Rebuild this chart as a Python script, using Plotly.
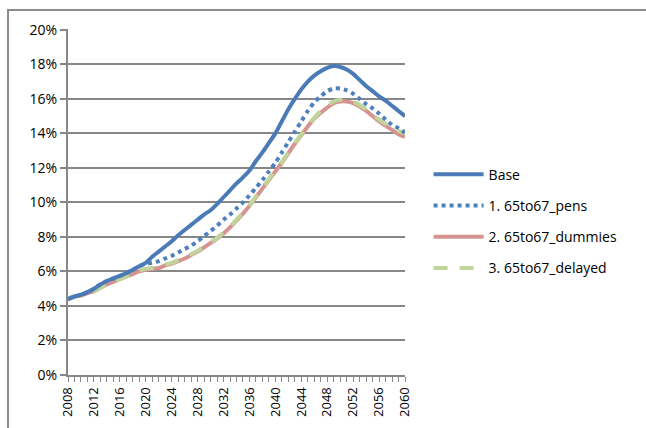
import plotly.graph_objects as go

years = list(range(2008, 2061))

base = [4.4, 4.55, 4.65, 4.8, 5.0, 5.25, 5.45, 5.6, 5.75, 5.9,
        6.1, 6.3, 6.5, 6.85, 7.15, 7.45, 7.75, 8.1, 8.4, 8.7,
        9.0, 9.3, 9.55, 9.9, 10.3, 10.7, 11.1, 11.45, 11.85, 12.4,
        12.9, 13.45, 14.0, 14.7, 15.4, 16.0, 16.55, 17.0, 17.35, 17.6,
        17.8, 17.9, 17.85, 17.7, 17.45, 17.1, 16.75, 16.45, 16.15, 15.9,
        15.6, 15.3, 15.0]

pens = [4.4, 4.55, 4.65, 4.8, 5.0, 5.25, 5.45, 5.6, 5.75, 5.9,
        6.1, 6.3, 6.45, 6.5, 6.6, 6.75, 6.9, 7.1, 7.3, 7.5,
        7.75, 8.05, 8.35, 8.65, 9.0, 9.3, 9.65, 10.0, 10.4, 10.85,
        11.3, 11.8, 12.3, 12.9, 13.5, 14.1, 14.7, 15.3, 15.8, 16.15,
        16.45, 16.6, 16.6, 16.5, 16.3, 16.0, 15.7, 15.45, 15.15, 14.8,
        14.5, 14.3, 14.05]

dummies = [4.4, 4.55, 4.6, 4.75, 4.85, 5.05, 5.25, 5.4, 5.55, 5.7,
           5.85, 6.0, 6.1, 6.15, 6.2, 6.35, 6.45, 6.6, 6.75, 6.95,
           7.15, 7.4, 7.65, 7.9, 8.2, 8.55, 8.95, 9.35, 9.8, 10.3,
           10.8, 11.3, 11.8, 12.3, 12.85, 13.4, 13.9, 14.4, 14.85, 15.2,
           15.5, 15.75, 15.85, 15.85, 15.75, 15.55, 15.3, 15.0, 14.7, 14.45,
           14.2, 13.95, 13.8]

delayed = [4.4, 4.55, 4.6, 4.75, 4.85, 5.05, 5.25, 5.4, 5.55, 5.7,
           5.85, 6.05, 6.15, 6.2, 6.25, 6.4, 6.5, 6.65, 6.8, 7.0,
           7.2, 7.45, 7.7, 7.95, 8.25, 8.6, 9.0, 9.4, 9.85, 10.35,
           10.85, 11.35, 11.85, 12.35, 12.9, 13.45, 13.95, 14.45, 14.9, 15.3,
           15.6, 15.85, 15.95, 15.95, 15.85, 15.65, 15.4, 15.1, 14.8, 14.55,
           14.35, 14.15, 14.0]

names = ["Base", "1. 65to67_pens", "2. 65to67_dummies", "3. 65to67_delayed"]
y_ticks = list(range(0, 21, 2))
y_labels = [f"{v}%" for v in y_ticks]
x_ticks = list(range(2008, 2061, 4))

FONT = "Open Sans"
GRID = "#878787"

fig = go.Figure()
styles = [
    dict(color="#4A7BB7", width=4, dash="solid"),
    dict(color="#4F81BD", width=4, dash="4px,4px"),
    dict(color="#D69491", width=4, dash="solid"),
    dict(color="#C0D59A", width=4, dash="14px,12px"),
]
series = [base, pens, dummies, delayed]
for i in [2, 3, 1, 0]:
    fig.add_trace(go.Scatter(
        x=years, y=series[i], mode="lines", name=names[i],
        line=dict(shape="spline", smoothing=0.8, **styles[i]),
        legendgroup=str(i), legendrank=i + 1,
    ))

fig.update_layout(
    width=646, height=428,
    margin=dict(l=68, r=241, t=29, b=53),
    paper_bgcolor="white", plot_bgcolor="white",
    font=dict(family=FONT, size=14, color="black"),
    showlegend=True,
    legend=dict(x=1.07, xanchor="left", y=0.625, yanchor="top",
                font=dict(family=FONT, size=14), itemwidth=50,
                tracegroupgap=10, bgcolor="rgba(0,0,0,0)",
                traceorder="grouped"),
    xaxis=dict(range=[2008, 2060], tickvals=x_ticks, ticktext=[str(v) for v in x_ticks],
               tickangle=-90, showgrid=False, zeroline=False,
               showline=True, linecolor=GRID, linewidth=2,
               ticks="outside", ticklen=5, tickcolor=GRID, tickwidth=1,
               minor=dict(dtick=1, tick0=2008, ticks="outside", ticklen=5,
                          tickcolor=GRID, tickwidth=1, showgrid=False),
               tickfont=dict(family=FONT, size=13)),
    yaxis=dict(range=[0, 20.05], tickvals=y_ticks, ticktext=y_labels,
               showgrid=True, gridcolor=GRID, gridwidth=2, zeroline=False,
               showline=True, linecolor=GRID, linewidth=2,
               ticks="outside", ticklen=6, tickcolor=GRID, tickwidth=2,
               tickfont=dict(family=FONT, size=14)),
    shapes=[dict(type="rect", xref="paper", yref="paper",
                 x0=-0.178, x1=1.9, y0=-0.4, y1=1.055,
                 line=dict(color="#8C8C8C", width=2), layer="below")],
)

fig.write_html("out.html")
